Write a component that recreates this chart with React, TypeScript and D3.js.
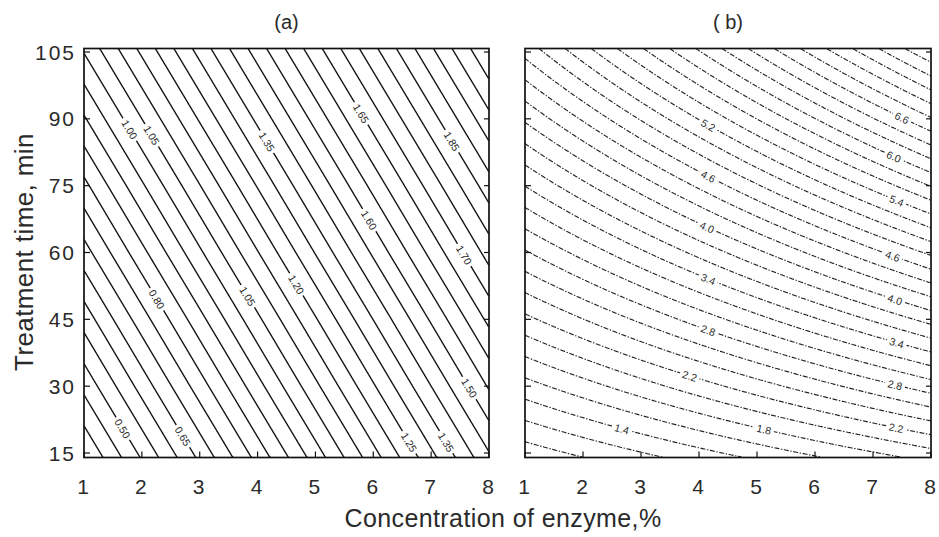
import React, { useMemo } from 'react';
import * as d3 from 'd3';

// ---------------- data ----------------
const concentration = [1, 2, 3, 4, 5, 6, 7, 8]; // enzyme, %
const timeMin = [15, 30, 45, 60, 75, 90, 105]; // treatment time, min

// Panel (a) response read at every (time, concentration) tick crossing; rows = time
const responseA = [
  [0.356, 0.512, 0.668, 0.824, 0.980, 1.136, 1.292, 1.448],
  [0.464, 0.620, 0.776, 0.932, 1.088, 1.244, 1.400, 1.556],
  [0.571, 0.727, 0.883, 1.039, 1.195, 1.351, 1.507, 1.663],
  [0.679, 0.835, 0.991, 1.147, 1.303, 1.459, 1.615, 1.771],
  [0.786, 0.942, 1.098, 1.254, 1.410, 1.566, 1.722, 1.878],
  [0.894, 1.050, 1.206, 1.362, 1.518, 1.674, 1.830, 1.986],
  [1.002, 1.158, 1.314, 1.470, 1.626, 1.782, 1.938, 2.094],
];

// Panel (b) response read at every tick crossing; rows = time
const responseB = [
  [0.894, 1.043, 1.191, 1.340, 1.489, 1.638, 1.786, 1.935],
  [1.522, 1.719, 1.917, 2.114, 2.312, 2.509, 2.707, 2.904],
  [2.149, 2.396, 2.642, 2.888, 3.134, 3.381, 3.627, 3.873],
  [2.777, 3.072, 3.367, 3.662, 3.957, 4.252, 4.547, 4.842],
  [3.405, 3.749, 4.092, 4.436, 4.780, 5.124, 5.467, 5.811],
  [4.033, 4.425, 4.818, 5.210, 5.603, 5.995, 6.388, 6.780],
  [4.660, 5.102, 5.543, 5.984, 6.425, 6.867, 7.308, 7.749],
];

const levelsA = d3.range(7, 43).map((i) => +(i * 0.05).toFixed(2));
const levelsB = d3.range(5, 39).map((i) => +(i * 0.2).toFixed(1));

// contour labels: level value and the concentration where it is written
const labelLevelsA = [1.0, 1.05, 1.35, 1.65, 1.85, 0.8, 1.05, 1.2, 1.5, 1.7, 1.5, 0.5, 0.65, 1.25, 1.35];
const labelTextA = ['1.00', '1.05', '1.35', '1.65', '1.85', '0.80', '1.05', '1.20', '1.60', '1.70', '1.50', '0.50', '0.65', '1.25', '1.35'];
const labelAtA = [1.79, 2.17, 4.16, 5.79, 7.36, 2.26, 3.83, 4.67, 5.93, 7.57, 7.66, 1.67, 2.71, 6.62, 7.26];
const labelLevelsB = [5.2, 4.6, 4.0, 3.4, 2.8, 2.2, 1.4, 1.8, 6.6, 6.0, 5.4, 4.6, 4.0, 3.4, 2.8, 2.2];
const labelTextB = labelLevelsB.map((v) => v.toFixed(1));
const labelAtB = [4.16, 4.16, 4.14, 4.16, 4.16, 3.84, 2.67, 5.12, 7.5, 7.36, 7.41, 7.34, 7.38, 7.41, 7.38, 7.4];

const xTicks = concentration;
const yTicks = timeMin;

// ---------------- layout ----------------
const W = 939;
const H = 537;
const frameTop = 48.5;
const frameBottom = 457.5;
const FONT = '"Liberation Sans", Arial, Helvetica, sans-serif';
const TEXT = '#2a2a2a';

function bilinear(grid: number[][], xs: number[], ys: number[], x: number, y: number) {
  const i = Math.max(0, Math.min(xs.length - 2, d3.bisectRight(xs, x) - 1));
  const j = Math.max(0, Math.min(ys.length - 2, d3.bisectRight(ys, y) - 1));
  const u = (x - xs[i]) / (xs[i + 1] - xs[i]);
  const v = (y - ys[j]) / (ys[j + 1] - ys[j]);
  const a = grid[j][i];
  const b = grid[j][i + 1];
  const c = grid[j + 1][i];
  const d = grid[j + 1][i + 1];
  return a * (1 - u) * (1 - v) + b * u * (1 - v) + c * (1 - u) * v + d * u * v;
}

type PanelProps = {
  grid: number[][];
  levels: number[];
  labelLevels: number[];
  labelText: string[];
  labelAt: number[];
  left: number;
  right: number;
  dashed: boolean;
  title: string;
  showY: boolean;
};

function Panel({ grid, levels, labelLevels, labelText, labelAt, left, right, dashed, title, showY }: PanelProps) {
  const x = d3.scaleLinear().domain([1, 8]).range([left, right]);
  const y = d3.scaleLinear().domain([15, 105]).range([453, 52]);

  const field = (c: number, t: number) => bilinear(grid, concentration, timeMin, c, t);

  const paths = useMemo(() => {
    const nx = Math.round(right - left);
    const ny = Math.round(frameBottom - frameTop);
    const cw = (right - left) / nx;
    const ch = (frameBottom - frameTop) / ny;
    const values = new Array(nx * ny);
    for (let j = 0; j < ny; j++) {
      const t = y.invert(frameTop + (j + 0.5) * ch);
      for (let i = 0; i < nx; i++) {
        const c = x.invert(left + (i + 0.5) * cw);
        values[j * nx + i] = field(c, t);
      }
    }
    const contours = d3.contours().size([nx, ny]).thresholds(levels)(values);
    const onB = (p: number[]) => p[0] <= 0 || p[0] >= nx || p[1] <= 0 || p[1] >= ny;
    const line = d3.line();
    const out: string[] = [];
    contours.forEach((mp) => {
      mp.coordinates.forEach((poly) => {
        poly.forEach((ring) => {
          let cur: [number, number][] = [];
          for (let k = 0; k < ring.length - 1; k++) {
            const p = ring[k];
            const q = ring[k + 1];
            if (onB(p) && onB(q)) {
              if (cur.length > 1) out.push(line(cur) as string);
              cur = [];
              continue;
            }
            const P: [number, number] = [left + p[0] * cw, frameTop + p[1] * ch];
            const Q: [number, number] = [left + q[0] * cw, frameTop + q[1] * ch];
            if (cur.length === 0) cur.push(P);
            cur.push(Q);
          }
          if (cur.length > 1) out.push(line(cur) as string);
        });
      });
    });
    return out;
  }, [grid, levels, left, right]);

  const labels = labelLevels.map((lv, k) => {
    const c = labelAt[k];
    let lo = 10;
    let hi = 110;
    for (let it = 0; it < 60; it++) {
      const mid = (lo + hi) / 2;
      if (field(c, mid) < lv) lo = mid;
      else hi = mid;
    }
    const t = (lo + hi) / 2;
    const X = x(c);
    const Y = y(t);
    const F = (px: number, py: number) => field(x.invert(px), y.invert(py));
    const gX = F(X + 1, Y) - F(X - 1, Y);
    const gY = F(X, Y + 1) - F(X, Y - 1);
    let tx = gY;
    let ty = -gX;
    if (tx < 0) {
      tx = -tx;
      ty = -ty;
    }
    const ang = (Math.atan2(ty, tx) * 180) / Math.PI;
    return { X, Y, ang, text: labelText[k] };
  });

  const fs = 10.5;
  return (
    <g>
      <g fill="none" stroke={dashed ? '#262626' : '#111'} strokeWidth={dashed ? 1.15 : 1.45}
        strokeDasharray={dashed ? '5 1.6 1.4 1.6' : undefined} strokeLinejoin="round">
        {paths.map((d, i) => (
          <path key={i} d={d} />
        ))}
      </g>
      {labels.map((l, i) => (
        <g key={i} transform={`translate(${l.X},${l.Y}) rotate(${l.ang})`}>
          <rect x={-(l.text.length * fs * 0.55) / 2 - 1.5} y={-fs * 0.55} width={l.text.length * fs * 0.55 + 3}
            height={fs * 1.1} fill="#fff" />
          <text textAnchor="middle" dominantBaseline="central" fontSize={fs} fontFamily={FONT} fill={TEXT}>
            {l.text}
          </text>
        </g>
      ))}
      <rect x={left} y={frameTop} width={right - left} height={frameBottom - frameTop} fill="none"
        stroke="#111" strokeWidth={1.7} />
      {xTicks.map((v) => (
        <g key={'x' + v}>
          <line x1={x(v)} x2={x(v)} y1={frameBottom} y2={frameBottom - 6} stroke="#111" strokeWidth={1.2} />
          <text x={x(v) - 1} y={494} textAnchor="middle" fontSize={21} fontFamily={FONT} fill={TEXT}>
            {v}
          </text>
        </g>
      ))}
      {yTicks.map((v) => (
        <g key={'y' + v}>
          <line x1={left} x2={left + 6} y1={y(v)} y2={y(v)} stroke="#111" strokeWidth={1.2} />
          <line x1={right} x2={right - 5} y1={y(v)} y2={y(v)} stroke="#111" strokeWidth={1.2} />
          {showY && (
            <text x={left - 8} y={y(v)} textAnchor="end" dominantBaseline="central" fontSize={21}
              fontFamily={FONT} fill={TEXT} letterSpacing={2}>
              {v}
            </text>
          )}
        </g>
      ))}
      <text x={(left + right) / 2} y={29} textAnchor="middle" fontSize={20} fontFamily={FONT} fill={TEXT}>
        {title}
      </text>
    </g>
  );
}

export default function App() {
  return (
    <svg width={W} height={H} viewBox={`0 0 ${W} ${H}`}
      style={{ position: 'absolute', left: 0, top: 0, background: '#fff' }}>
      <rect x={0} y={0} width={W} height={H} fill="#fff" />
      <Panel grid={responseA} levels={levelsA} labelLevels={labelLevelsA} labelText={labelTextA} labelAt={labelAtA}
        left={84} right={489} dashed={false} title="(a)" showY={true} />
      <Panel grid={responseB} levels={levelsB} labelLevels={labelLevelsB} labelText={labelTextB} labelAt={labelAtB}
        left={525} right={931} dashed={true} title="( b)" showY={false} />
      <text x={503} y={527} textAnchor="middle" fontSize={25} fontFamily={FONT} fill={TEXT} letterSpacing={0.4}>
        Concentration of enzyme,%
      </text>
      <text transform={`translate(33,${252}) rotate(-90)`} textAnchor="middle" fontSize={26}
        fontFamily={FONT} fill={TEXT} letterSpacing={0.4}>
        Treatment time, min
      </text>
    </svg>
  );
}
